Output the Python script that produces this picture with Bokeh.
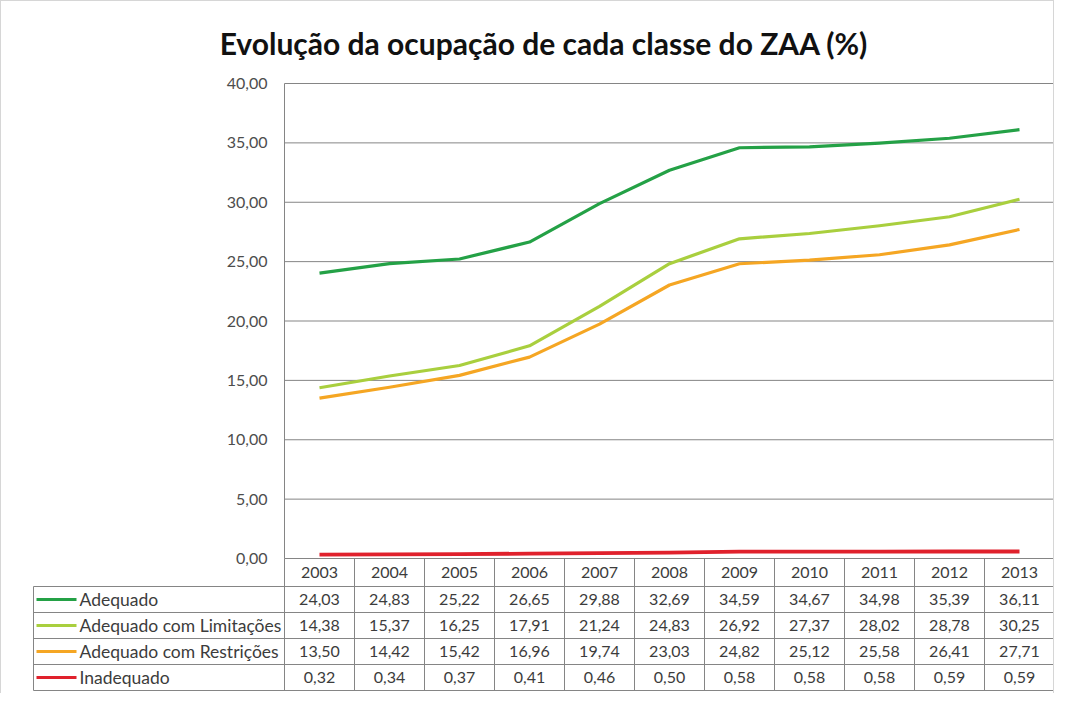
import numpy as np
from bokeh.plotting import figure
from bokeh.models import Range1d, FixedTicker, CustomJSTickFormatter
from bokeh.embed import file_html
from bokeh.resources import INLINE
from bokeh.core.properties import value

# ---------------- data ----------------
years = [2003, 2004, 2005, 2006, 2007, 2008, 2009, 2010, 2011, 2012, 2013]
series_names = ["Adequado", "Adequado com Limitações", "Adequado com Restrições", "Inadequado"]
adequado = [24.03, 24.83, 25.22, 26.65, 29.88, 32.69, 34.59, 34.67, 34.98, 35.39, 36.11]
limitacoes = [14.38, 15.37, 16.25, 17.91, 21.24, 24.83, 26.92, 27.37, 28.02, 28.78, 30.25]
restricoes = [13.50, 14.42, 15.42, 16.96, 19.74, 23.03, 24.82, 25.12, 25.58, 26.41, 27.71]
inadequado = [0.32, 0.34, 0.37, 0.41, 0.46, 0.50, 0.58, 0.58, 0.58, 0.59, 0.59]
y_ticks = [0, 5, 10, 15, 20, 25, 30, 35, 40]
title_text = "Evolução da ocupação de cada classe do ZAA (%)"

series_values = [adequado, limitacoes, restricoes, inadequado]
colors = ["#24a146", "#a9cf3e", "#f5a623", "#e0212c"]

FONT = "Lato"
GRID = "#858585"
TXT = "#3c3c3c"

def fmt(v):
    return f"{v:.2f}".replace(".", ",")

# ---------------- geometry (figure pixels) ----------------
W, H = 1054, 693
CHART_L, CHART_R = 283, 1053        # chart area left/right
TABLE_L = 32                        # left edge of table label column
FRAME_TOP = 70                      # top of frame
Y40 = 82                            # pixel row of the 40 line
ZERO_Y = 557                        # pixel row of the zero line
HEADER_H, ROW_H = 28, 26

COL = (CHART_R - CHART_L) / len(years)          # px per year column
PX = (ZERO_Y - Y40) / 40.0                      # px per percentage unit
y_top = 40 + (Y40 - FRAME_TOP) / PX
y_bot = -(H - ZERO_Y) / PX
x0 = (TABLE_L - CHART_L) / COL                   # table left in column units
x_start = x0 - 1 / COL
x_end = len(years) + 1 / COL

x_pos = np.arange(len(years)) + 0.5

p = figure(width=W, height=H, output_backend="svg", toolbar_location=None,
           x_range=Range1d(x_start, x_end), y_range=Range1d(y_bot, y_top),
           x_axis_type=None,
           min_border_left=TABLE_L - 1, min_border_right=0,
           min_border_top=FRAME_TOP, min_border_bottom=0)
p.styles = {"border-top": "1px solid #d6d6d6", "border-left": "1px solid #d6d6d6",
            "border-right": "1px solid #d6d6d6"}
p.outline_line_color = None
p.xgrid.grid_line_color = None
p.ygrid.grid_line_color = None

p.title.text = title_text
p.title.text_font = FONT
p.title.text_font_size = "30px"
p.title.text_font_style = "bold"
p.title.text_color = "#111111"
p.title.align = "center"
p.title.offset = -22
p.title.standoff = 22

# y axis placed at the left edge of the chart area
ax = p.yaxis[0]
ax.fixed_location = 0
ax.ticker = FixedTicker(ticks=y_ticks)
ax.formatter = CustomJSTickFormatter(code="return tick.toFixed(2).replace('.', ',');")
ax.axis_line_color = None
ax.major_tick_line_color = None
ax.minor_tick_line_color = None
ax.major_tick_out = 0
ax.major_tick_in = 0
ax.major_label_standoff = 17
ax.major_label_text_font = FONT
ax.major_label_text_font_size = "16px"
ax.major_label_text_color = "#4d4d4d"

# horizontal grid lines of the chart area (from the tick values)
p.segment(x0=[0] * len(y_ticks), y0=y_ticks, x1=[len(years)] * len(y_ticks), y1=y_ticks,
          line_color=GRID, line_width=1)
# chart area side borders
p.segment(x0=[0, len(years)], y0=[0, 0], x1=[0, len(years)], y1=[40, 40],
          line_color=GRID, line_width=1)

widths = [3.2, 3.2, 3.2, 3.8]
for vals, col, lw in zip(series_values, colors, widths):
    p.line(x=x_pos, y=vals, line_color=col, line_width=lw, line_join="round")

# ---------------- data table ----------------
nrows = len(series_names)
row_edges_px = [HEADER_H + ROW_H * k for k in range(nrows + 1)]
row_edges = [-e / PX for e in row_edges_px]            # data y of horizontal rules
table_bottom = row_edges[-1]
header_mid = -(HEADER_H / 2) / PX
row_mids = [-(HEADER_H + ROW_H * (k + 0.5)) / PX for k in range(nrows)]

# horizontal rules across full table width
p.segment(x0=[x0] * len(row_edges), y0=row_edges, x1=[len(years)] * len(row_edges),
          y1=row_edges, line_color=GRID, line_width=1)
# vertical rules of the year columns
vx = [float(i) for i in range(len(years) + 1)]
p.segment(x0=vx, y0=[0] * len(vx), x1=vx, y1=[table_bottom] * len(vx),
          line_color=GRID, line_width=1)
# left border of label column
p.segment(x0=[x0], y0=[row_edges[0]], x1=[x0], y1=[table_bottom],
          line_color=GRID, line_width=1)

# header years
p.text(x=x_pos, y=[header_mid] * len(years), text=[str(y) for y in years],
       text_font=value(FONT), text_font_size=value("16px"), text_color=TXT,
       text_align="center", text_baseline="middle")

# values
tx, ty, tt = [], [], []
for r, vals in enumerate(series_values):
    for i, v in enumerate(vals):
        tx.append(x_pos[i]); ty.append(row_mids[r]); tt.append(fmt(v))
p.text(x=tx, y=ty, text=tt, text_font=value(FONT), text_font_size=value("16px"),
       text_color=TXT, text_align="center", text_baseline="middle")

# legend keys and series names
sw0 = (35 - CHART_L) / COL
sw1 = (75 - CHART_L) / COL
lx = (78 - CHART_L) / COL
p.segment(x0=[sw0] * nrows, y0=row_mids, x1=[sw1] * nrows, y1=row_mids,
          line_color=colors, line_width=3.2)
p.text(x=[lx] * nrows, y=row_mids, text=series_names, text_font=value(FONT),
       text_font_size=value("17.5px"), text_color=TXT, text_align="left",
       text_baseline="middle")

open("out.html", "w").write(file_html(p, INLINE))
